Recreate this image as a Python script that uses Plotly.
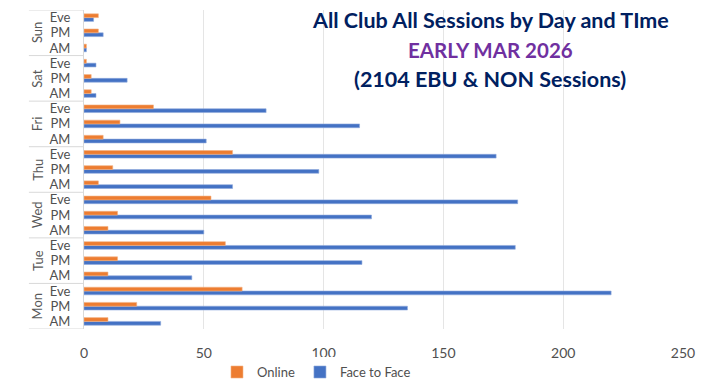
import plotly.graph_objects as go

days = ["Mon", "Tue", "Wed", "Thu", "Fri", "Sat", "Sun"]
times = ["AM", "PM", "Eve"]
online = [10, 22, 66,  10, 14, 59,  10, 14, 53,  6, 12, 62,  8, 15, 29,  3, 3, 1,  1, 6, 6]
face_to_face = [32, 135, 220,  45, 116, 180,  50, 120, 181,  62, 98, 172,  51, 115, 76,  5, 18, 5,  1, 8, 4]
x_ticks = [0, 50, 100, 150, 200, 250]

cats = [f"{d} {t}" for d in days for t in times]
time_text = [t for d in days for t in times]

BLUE = "#4472C4"
ORANGE = "#ED7D31"
GRAY = "#595959"
FONT = "Lato"

fig = go.Figure()
fig.add_trace(go.Bar(y=cats, x=face_to_face, orientation="h", name="Face to Face",
                     marker=dict(color=BLUE, line=dict(width=0.6, color="#8FAADC")), legendrank=2))
fig.add_trace(go.Bar(y=cats, x=online, orientation="h", name="Online",
                     marker=dict(color=ORANGE, line=dict(width=0.6, color="#F4B183")), legendrank=1))

shapes = []
annotations = []
n_t = len(times)
for i, d in enumerate(days):
    annotations.append(dict(x=-0.078, xref="paper", y=i * n_t + (n_t - 1) / 2, yref="y",
                            text=d, textangle=-90, showarrow=False,
                            xanchor="center", yanchor="middle",
                            font=dict(family=FONT, size=13, color=GRAY)))
for i in range(len(days) + 1):
    shapes.append(dict(type="line", xref="paper", yref="y", x0=-0.092, x1=0,
                       y0=i * n_t - 0.5, y1=i * n_t - 0.5, line=dict(color="#D9D9D9", width=1)))

title_lines = [("All Club All Sessions by Day and TIme", "#002060", 0.969, 21.5),
               ("EARLY MAR 2026", "#7030A0", 0.875, 20.5),
               ("(2104 EBU & NON Sessions)", "#002060", 0.784, 21.5)]
for txt, col, yy, sz in title_lines:
    annotations.append(dict(x=0.678, xref="paper", y=yy, yref="paper", text=f"<b>{txt}</b>",
                            showarrow=False, xanchor="center", yanchor="middle",
                            font=dict(family=FONT, size=sz, color=col)))

fig.update_layout(
    width=696, height=380,
    margin=dict(l=76, r=21, t=2, b=59, autoexpand=False),
    paper_bgcolor="white", plot_bgcolor="white",
    barmode="group", bargap=0.5, bargroupgap=0,
    font=dict(family=FONT, color=GRAY),
    showlegend=True,
    legend=dict(orientation="h", x=0.222, xanchor="left", y=-0.135, yanchor="middle",
                font=dict(family=FONT, size=13, color="#505050"), itemwidth=30,
                traceorder="normal"),
    shapes=shapes, annotations=annotations,
    xaxis=dict(range=[0, 250], tickvals=x_ticks, showgrid=True, gridcolor="#E5E5E5",
               zeroline=False, showline=False, ticks="", automargin=False,
               tickfont=dict(family=FONT, size=14, color="#505050"), ticklabelstandoff=14),
    yaxis=dict(type="category", categoryorder="array", categoryarray=cats,
               tickvals=cats, ticktext=time_text, range=[-0.5, len(cats) - 0.5],
               showline=True, linecolor="#D9D9D9", showgrid=False, ticks="", automargin=False,
               tickfont=dict(family=FONT, size=13, color="#505050"), ticklabelstandoff=10),
)

fig.write_html("out.html")
